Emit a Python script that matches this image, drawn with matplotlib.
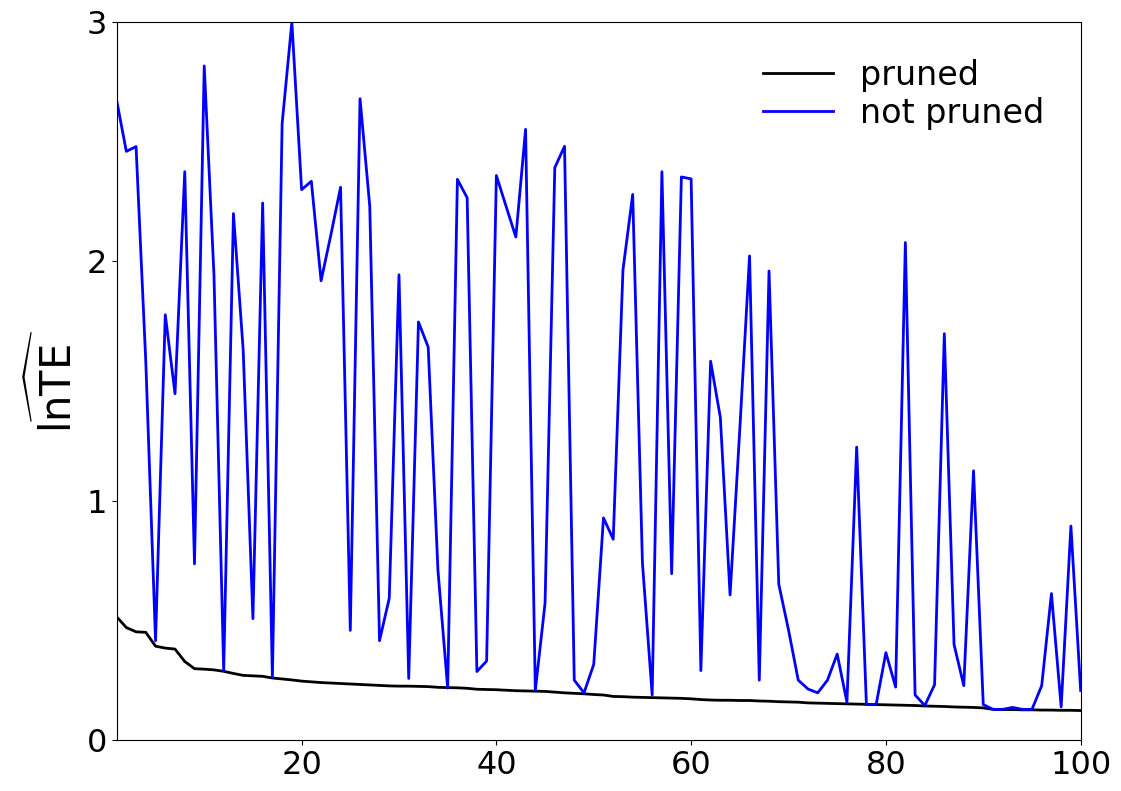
import matplotlib
matplotlib.use("Agg")
import matplotlib.pyplot as plt
import numpy as np

x_index = list(range(1, 101))

pruned = [
    0.515, 0.470, 0.452, 0.450, 0.392, 0.384, 0.380, 0.328, 0.298, 0.296,
    0.293, 0.287, 0.278, 0.270, 0.268, 0.266, 0.259, 0.255, 0.251, 0.246,
    0.243, 0.240, 0.238, 0.236, 0.234, 0.232, 0.230, 0.228, 0.226, 0.225,
    0.225, 0.224, 0.223, 0.220, 0.219, 0.218, 0.216, 0.212, 0.211, 0.210,
    0.208, 0.206, 0.205, 0.204, 0.203, 0.200, 0.197, 0.195, 0.193, 0.190,
    0.188, 0.182, 0.181, 0.179, 0.178, 0.177, 0.176, 0.175, 0.174, 0.172,
    0.169, 0.167, 0.166, 0.166, 0.165, 0.165, 0.163, 0.162, 0.160, 0.159,
    0.158, 0.155, 0.154, 0.153, 0.152, 0.151, 0.150, 0.149, 0.148, 0.147,
    0.146, 0.145, 0.144, 0.142, 0.141, 0.140, 0.138, 0.137, 0.136, 0.134,
    0.128, 0.127, 0.127, 0.126, 0.126, 0.125, 0.125, 0.124, 0.124, 0.123,
]

not_pruned = [
    2.675, 2.46, 2.48, 1.58, 0.415, 1.777, 1.447, 2.375, 0.736, 2.817,
    1.944, 0.29, 2.20, 1.63, 0.507, 2.244, 0.26, 2.576, 3.0, 2.30,
    2.335, 1.919, 2.11, 2.31, 0.458, 2.68, 2.23, 0.415, 0.592, 1.944,
    0.257, 1.747, 1.642, 0.71, 0.217, 2.343, 2.266, 0.286, 0.33, 2.359,
    2.23, 2.102, 2.552, 0.207, 0.572, 2.392, 2.481, 0.25, 0.197, 0.316,
    0.928, 0.839, 1.964, 2.28, 0.74, 0.188, 2.375, 0.695, 2.353, 2.345,
    0.29, 1.583, 1.348, 0.606, 1.30, 2.023, 0.25, 1.96, 0.651, 0.46,
    0.25, 0.213, 0.197, 0.25, 0.359, 0.158, 1.224, 0.148, 0.148, 0.365,
    0.221, 2.079, 0.188, 0.144, 0.231, 1.698, 0.399, 0.227, 1.125, 0.148,
    0.128, 0.128, 0.136, 0.128, 0.128, 0.227, 0.612, 0.138, 0.894, 0.207,
]

x_ticks = [20, 40, 60, 80, 100]
y_ticks = [0, 1, 2, 3]

fig = plt.figure(figsize=(11.21, 7.91), dpi=100)
ax = fig.add_axes([0.104, 0.0645, 0.860, 0.9075])

ax.plot(x_index, pruned, color="black", lw=2, label="pruned")
ax.plot(x_index, not_pruned, color="blue", lw=2, label="not pruned")

ax.set_xlim(1, 100)
ax.set_ylim(0, 3)
ax.set_xticks(x_ticks)
ax.set_yticks(y_ticks)
ax.tick_params(labelsize=23)
ax.set_ylabel(r"$\widehat{\mathrm{lnTE}}$", fontsize=30)

ax.legend(loc="upper right", fontsize=24, frameon=False, labelspacing=0.15,
          handlelength=2.1, borderaxespad=0.7)

fig.savefig("out.png", dpi=100)
